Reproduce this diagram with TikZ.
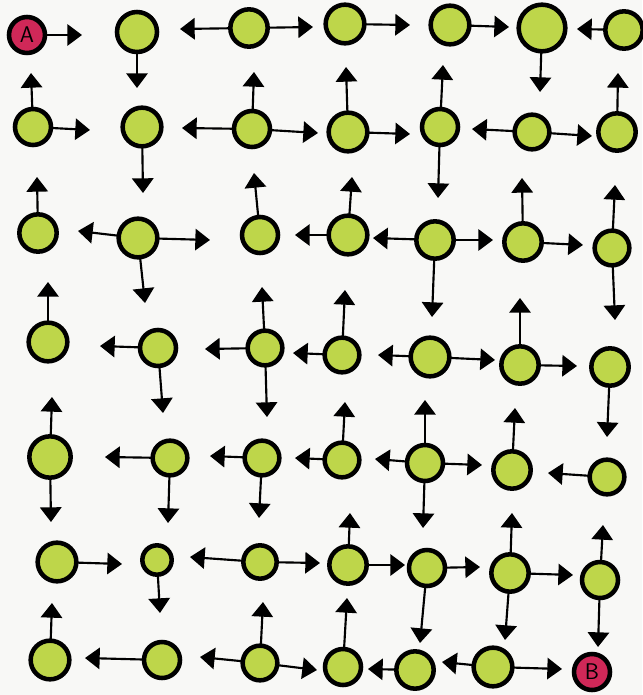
\documentclass[tikz,border=0pt]{standalone}
\usetikzlibrary{arrows.meta}

\definecolor{paper}{RGB}{248,248,246}
\definecolor{lime}{RGB}{190,214,74}
\definecolor{rose}{RGB}{208,40,88}

\tikzset{every picture/.style={line width=0.75pt}}
\tikzset{
  dot/.style={circle, draw=black, fill=lime, line width=3.4pt, inner sep=0pt, minimum size=28pt},
  endpt/.style={dot, fill=rose, font=\sffamily\fontsize{17}{17}\selectfont},
  move/.style={-{Triangle[length=11pt,width=16pt]}, line width=1.6pt, shorten <=-1.5pt}
}

\begin{document}
\begin{tikzpicture}[x=0.75pt,y=0.75pt,yscale=-1,xscale=1]
\useasboundingbox (0,0) rectangle (642,695);
\fill[paper] (0,0) rectangle (642,695);

%Shape: Circle  row 1
\node[endpt, minimum size=27pt] (n11) at (27,35) {A};
\node[dot, minimum size=30pt] (n12) at (137,32) {};
\node[dot] (n13) at (249,28) {};
\node[dot, minimum size=29pt] (n14) at (345,24) {};
\node[dot, minimum size=29pt] (n15) at (450,25) {};
\node[dot, minimum size=35pt] (n16) at (542,28) {};
\node[dot] (n17) at (624,30) {};
%Shape: Circle  row 2
\node[dot, minimum size=27pt] (n21) at (33,127) {};
\node[dot, minimum size=29pt] (n22) at (142,127) {};
\node[dot, minimum size=27pt] (n23) at (252,129) {};
\node[dot, minimum size=29pt] (n24) at (348,132) {};
\node[dot, minimum size=27pt] (n25) at (440,127) {};
\node[dot, minimum size=26pt] (n26) at (532,132) {};
\node[dot] (n27) at (617,132) {};
%Shape: Circle  row 3
\node[dot] (n31) at (38,233) {};
\node[dot, minimum size=29pt] (n32) at (138,238) {};
\node[dot, minimum size=27pt] (n33) at (260,235) {};
\node[dot, minimum size=29pt] (n34) at (348,235) {};
\node[dot] (n35) at (435,240) {};
\node[dot] (n36) at (523,242) {};
\node[dot, minimum size=26pt] (n37) at (612,248) {};
%Shape: Circle  row 4
\node[dot, minimum size=29pt] (n41) at (48,342) {};
\node[dot, minimum size=27pt] (n42) at (158,348) {};
\node[dot, minimum size=26pt] (n43) at (265,348) {};
\node[dot, minimum size=26pt] (n44) at (342,355) {};
\node[dot, minimum size=29pt] (n45) at (430,357) {};
\node[dot] (n46) at (520,365) {};
\node[dot] (n47) at (610,367) {};
%Shape: Circle  row 5
\node[dot, minimum size=31pt] (n51) at (50,457) {};
\node[dot, minimum size=26pt] (n52) at (170,458) {};
\node[dot, minimum size=26pt] (n53) at (262,458) {};
\node[dot, minimum size=26pt] (n54) at (342,460) {};
\node[dot, minimum size=27pt] (n55) at (425,463) {};
\node[dot] (n56) at (512,470) {};
\node[dot, minimum size=26pt] (n57) at (607,477) {};
%Shape: Circle  row 6
\node[dot, minimum size=29pt] (n61) at (57,562) {};
\node[dot, minimum size=22pt] (n62) at (157,560) {};
\node[dot, minimum size=25pt] (n63) at (260,562) {};
\node[dot] (n64) at (348,565) {};
\node[dot, minimum size=27pt] (n65) at (427,568) {};
\node[dot] (n66) at (510,573) {};
\node[dot, minimum size=27pt] (n67) at (600,580) {};
%Shape: Circle  row 7
\node[dot, minimum size=29pt] (n71) at (50,660) {};
\node[dot, minimum size=27pt] (n72) at (162,660) {};
\node[dot, minimum size=26pt] (n73) at (260,663) {};
\node[dot, minimum size=27pt] (n74) at (343,667) {};
\node[dot] (n75) at (415,670) {};
\node[dot, minimum size=29pt] (n76) at (493,667) {};
\node[endpt, minimum size=27pt] (n77) at (592,672) {B};

%Straight Lines  row 1
\draw[move] (n11) -- (82,35) coordinate (t11e);
\draw[move] (n12) -- (137,88) coordinate (t12s);
\draw[move] (n13) -- (180,29) coordinate (t13w);
\draw[move] (n13) -- (313,27) coordinate (t13e);
\draw[move] (n14) -- (410,25) coordinate (t14e);
\draw[move] (n15) -- (509,27) coordinate (t15e);
\draw[move] (n16) -- (540,92) coordinate (t16s);
\draw[move] (n17) -- (577,29) coordinate (t17w);
%Straight Lines  row 2
\draw[move] (n21) -- (31,73) coordinate (t21n);
\draw[move] (n21) -- (90,130) coordinate (t21e);
\draw[move] (n22) -- (143,193) coordinate (t22s);
\draw[move] (n23) -- (254,72) coordinate (t23n);
\draw[move] (n23) -- (182,128) coordinate (t23w);
\draw[move] (n23) -- (318,133) coordinate (t23e);
\draw[move] (n24) -- (346,67) coordinate (t24n);
\draw[move] (n24) -- (410,134) coordinate (t24e);
\draw[move] (n25) -- (443,65) coordinate (t25n);
\draw[move] (n25) -- (438,198) coordinate (t25s);
\draw[move] (n26) -- (472,129) coordinate (t26w);
\draw[move] (n26) -- (592,136) coordinate (t26e);
\draw[move] (n27) -- (618,73) coordinate (t27n);
%Straight Lines  row 3
\draw[move] (n31) -- (37,177) coordinate (t31n);
\draw[move] (n32) -- (78,231) coordinate (t32w);
\draw[move] (n32) -- (210,240) coordinate (t32e);
\draw[move] (n32) -- (145,303) coordinate (t32s);
\draw[move] (n33) -- (254,173) coordinate (t33n);
\draw[move] (n34) -- (295,235) coordinate (t34w);
\draw[move] (n34) -- (352,177) coordinate (t34n);
\draw[move] (n35) -- (373,238) coordinate (t35w);
\draw[move] (n35) -- (493,240) coordinate (t35e);
\draw[move] (n35) -- (432,317) coordinate (t35s);
\draw[move] (n36) -- (522,178) coordinate (t36n);
\draw[move] (n36) -- (583,245) coordinate (t36e);
\draw[move] (n37) -- (615,185) coordinate (t37n);
\draw[move] (n37) -- (615,320) coordinate (t37s);
%Straight Lines  row 4
\draw[move] (n41) -- (48,282) coordinate (t41n);
\draw[move] (n42) -- (100,346) coordinate (t42w);
\draw[move] (n42) -- (163,413) coordinate (t42s);
\draw[move] (n43) -- (262,287) coordinate (t43n);
\draw[move] (n43) -- (205,349) coordinate (t43w);
\draw[move] (n43) -- (267,417) coordinate (t43s);
\draw[move] (n44) -- (293,353) coordinate (t44w);
\draw[move] (n44) -- (345,290) coordinate (t44n);
\draw[move] (n45) -- (378,355) coordinate (t45w);
\draw[move] (n45) -- (495,360) coordinate (t45e);
\draw[move] (n46) -- (520,298) coordinate (t46n);
\draw[move] (n46) -- (577,366) coordinate (t46e);
\draw[move] (n47) -- (607,437) coordinate (t47s);
%Straight Lines  row 5
\draw[move] (n51) -- (52,397) coordinate (t51n);
\draw[move] (n51) -- (51,522) coordinate (t51s);
\draw[move] (n52) -- (105,457) coordinate (t52w);
\draw[move] (n52) -- (168,523) coordinate (t52s);
\draw[move] (n53) -- (210,456) coordinate (t53w);
\draw[move] (n53) -- (259,518) coordinate (t53s);
\draw[move] (n54) -- (295,458) coordinate (t54w);
\draw[move] (n54) -- (345,402) coordinate (t54n);
\draw[move] (n55) -- (375,459) coordinate (t55w);
\draw[move] (n55) -- (482,465) coordinate (t55e);
\draw[move] (n55) -- (423,528) coordinate (t55s);
\draw[move] (n55) -- (425,400) coordinate (t55n);
\draw[move] (n56) -- (515,408) coordinate (t56n);
\draw[move] (n57) -- (548,473) coordinate (t57w);
%Straight Lines  row 6
\draw[move] (n61) -- (122,564) coordinate (t61e);
\draw[move] (n62) -- (160,613) coordinate (t62s);
\draw[move] (n63) -- (190,557) coordinate (t63w);
\draw[move] (n63) -- (320,563) coordinate (t63e);
\draw[move] (n64) -- (350,513) coordinate (t64n);
\draw[move] (n64) -- (405,565) coordinate (t64e);
\draw[move] (n65) -- (480,567) coordinate (t65e);
\draw[move] (n65) -- (420,643) coordinate (t65s);
\draw[move] (n66) -- (512,513) coordinate (t66n);
\draw[move] (n66) -- (573,575) coordinate (t66e);
\draw[move] (n66) -- (505,640) coordinate (t66s);
\draw[move] (n67) -- (603,525) coordinate (t67n);
\draw[move] (n67) -- (598,647) coordinate (t67s);
%Straight Lines  row 7
\draw[move] (n71) -- (52,603) coordinate (t71n);
\draw[move] (n72) -- (85,658) coordinate (t72w);
\draw[move] (n73) -- (200,657) coordinate (t73w);
\draw[move] (n73) -- (263,602) coordinate (t73n);
\draw[move] (n73) -- (317,670) coordinate (t73e);
\draw[move] (n74) -- (347,598) coordinate (t74n);
\draw[move] (n75) -- (368,669) coordinate (t75w);
\draw[move] (n76) -- (442,662) coordinate (t76w);
\draw[move] (n76) -- (562,669) coordinate (t76e);

\end{tikzpicture}
\end{document}
